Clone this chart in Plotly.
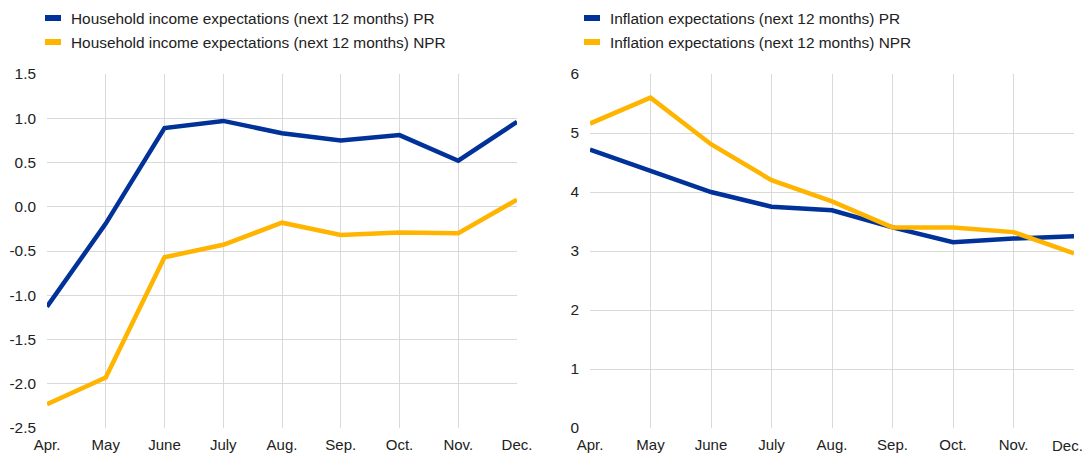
import plotly.graph_objects as go
from plotly.subplots import make_subplots

months = ["Apr.", "May", "June", "July", "Aug.", "Sep.", "Oct.", "Nov.", "Dec."]
income_pr = [-1.13, -0.19, 0.89, 0.97, 0.83, 0.75, 0.81, 0.52, 0.96]
income_npr = [-2.23, -1.93, -0.57, -0.43, -0.18, -0.32, -0.29, -0.30, 0.08]
infl_pr = [4.72, 4.37, 4.00, 3.75, 3.69, 3.40, 3.15, 3.21, 3.25]
infl_npr = [5.16, 5.60, 4.81, 4.20, 3.84, 3.40, 3.40, 3.32, 2.96]

left_ticks = [-2.5, -2.0, -1.5, -1.0, -0.5, 0.0, 0.5, 1.0, 1.5]
left_ticktext = ["-2.5", "-2.0", "-1.5", "-1.0", "-0.5", "0.0", "0.5", "1.0", "1.5"]

names_left = ["Household income expectations (next 12 months) PR",
              "Household income expectations (next 12 months) NPR"]
names_right = ["Inflation expectations (next 12 months) PR",
               "Inflation expectations (next 12 months) NPR"]

BLUE = "#003299"
YELLOW = "#FFB400"
FONT = "Liberation Sans, Arial, sans-serif"
FS = 15.4
OFF = 8  # page body margin
W, H = 1090 - OFF, 455 - OFF


def px(x):
    return (x - OFF) / W


def py(y):
    return 1 - (y - OFF) / H


fig = make_subplots(rows=1, cols=2)
fig.add_trace(go.Scatter(x=months, y=income_pr, mode="lines", name=names_left[0],
                         line=dict(color=BLUE, width=4.5)), row=1, col=1)
fig.add_trace(go.Scatter(x=months, y=income_npr, mode="lines", name=names_left[1],
                         line=dict(color=YELLOW, width=4.5)), row=1, col=1)
fig.add_trace(go.Scatter(x=months, y=infl_pr, mode="lines", name=names_right[0],
                         line=dict(color=BLUE, width=4.5)), row=1, col=2)
fig.add_trace(go.Scatter(x=months, y=infl_npr, mode="lines", name=names_right[1],
                         line=dict(color=YELLOW, width=4.5)), row=1, col=2)

ydom = [py(428), py(74)]
xaxis_common = dict(type="category", range=[0, 8], showgrid=True, gridcolor="#d9d9d9",
                    gridwidth=1, zeroline=False, showline=False, ticks="",
                    ticklabelstandoff=6,
                    tickfont=dict(family=FONT, size=15, color="#222"), automargin=False)
yaxis_common = dict(showgrid=True, gridcolor="#d9d9d9", gridwidth=1, zeroline=False,
                    showline=False, ticks="", ticklabelstandoff=10,
                    tickfont=dict(family=FONT, size=FS, color="#222"), automargin=False)

# right panel: last month label drawn as annotation so it is not clipped at the edge
right_ticktext = months[:-1] + [""]

fig.update_layout(
    width=W, height=H, margin=dict(l=0, r=0, t=0, b=0),
    paper_bgcolor="white", plot_bgcolor="white", showlegend=False,
    font=dict(family=FONT, size=FS, color="#222"),
    xaxis=dict(domain=[px(47), px(517)], **xaxis_common),
    xaxis2=dict(domain=[px(590), px(1074)], tickmode="array", tickvals=months,
                ticktext=right_ticktext, **xaxis_common),
    yaxis=dict(domain=ydom, range=[-2.5, 1.5], tickmode="array", tickvals=left_ticks,
               ticktext=left_ticktext, **yaxis_common),
    yaxis2=dict(domain=ydom, range=[0, 6], dtick=1, **yaxis_common),
)

fig.add_annotation(xref="paper", yref="paper", x=px(1084), y=py(445),
                   text=months[-1], showarrow=False, xanchor="right", yanchor="middle",
                   borderpad=0, font=dict(family=FONT, size=15, color="#222"))

# Manual legends
legend_items = [(45, names_left), (584, names_right)]
for x0, names in legend_items:
    for i, (nm, col) in enumerate(zip(names, [BLUE, YELLOW])):
        yc = 18 + i * 24
        fig.add_shape(type="rect", xref="paper", yref="paper",
                      x0=px(x0), x1=px(x0 + 16),
                      y0=py(yc + 3), y1=py(yc - 3),
                      fillcolor=col, line=dict(width=0))
        fig.add_annotation(xref="paper", yref="paper", x=px(x0 + 24), y=py(yc),
                           text=nm, showarrow=False, xanchor="left", yanchor="middle",
                           font=dict(family=FONT, size=FS, color="#222"))

fig.write_html("out.html")
